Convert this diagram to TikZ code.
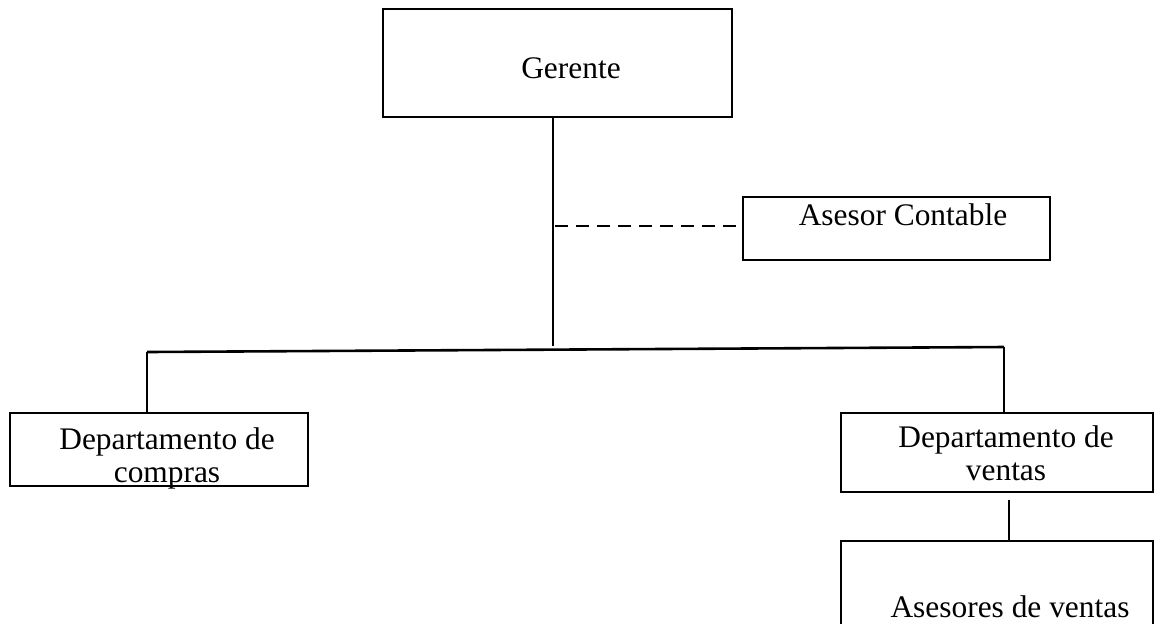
\documentclass[tikz,border=0pt]{standalone}
\usepackage{fontspec}
\setmainfont{Liberation Serif}
\begin{document}
\begin{tikzpicture}[x=0.5pt,y=-0.5pt,
  box/.style={draw,line width=1.4pt,inner sep=0pt,rectangle},
  lbl/.style={inner sep=0pt,anchor=base,align=center,font=\fontsize{15.7}{16.5}\selectfont},
  con/.style={line width=1.3pt},
  dsh/.style={line width=1.2pt,dash pattern=on 6.5pt off 4pt}]
\useasboundingbox (0,0) rectangle (1165,623);
% boxes
\node[box,minimum width=174.5pt,minimum height=54pt] (ger) at (557.5,63) {};
\node[box,minimum width=153.5pt,minimum height=31.5pt] (ase) at (896.5,228.5) {};
\node[box,minimum width=149pt,minimum height=36.5pt] (com) at (159,449.5) {};
\node[box,minimum width=156pt,minimum height=39.5pt] (ven) at (997,452.5) {};
\node[box,minimum width=156pt,minimum height=59.5pt] (asv) at (997,600.5) {};
% texts
\node[lbl] (gerT) at (571,78) {Gerente};
\node[lbl] (aseT) at (903,225) {Asesor Contable};
\node[lbl] (comT) at (167,482) {Departamento de\\compras};
\node[lbl] (venT) at (1006,480) {Departamento de\\ventas};
\node[lbl] (asvT) at (1010,617) {Asesores de ventas};
% junction coordinates
\coordinate (j) at (553,346);
\coordinate (jd) at (555,226);
\coordinate (hl) at (147,352);
\coordinate (hr) at (1004,347);
\coordinate (vb) at (1009,500);
% connectors
\draw[con] (ger.south -| j) -- (j);
\draw[dsh] (jd) -- (ase.west |- jd);
\draw[con] (hl) -- (hr);
\draw[con] (hl) -- (com.north -| hl);
\draw[con] (hr) -- (ven.north -| hr);
\draw[con] (vb) -- (asv.north -| vb);
\end{tikzpicture}
\end{document}
